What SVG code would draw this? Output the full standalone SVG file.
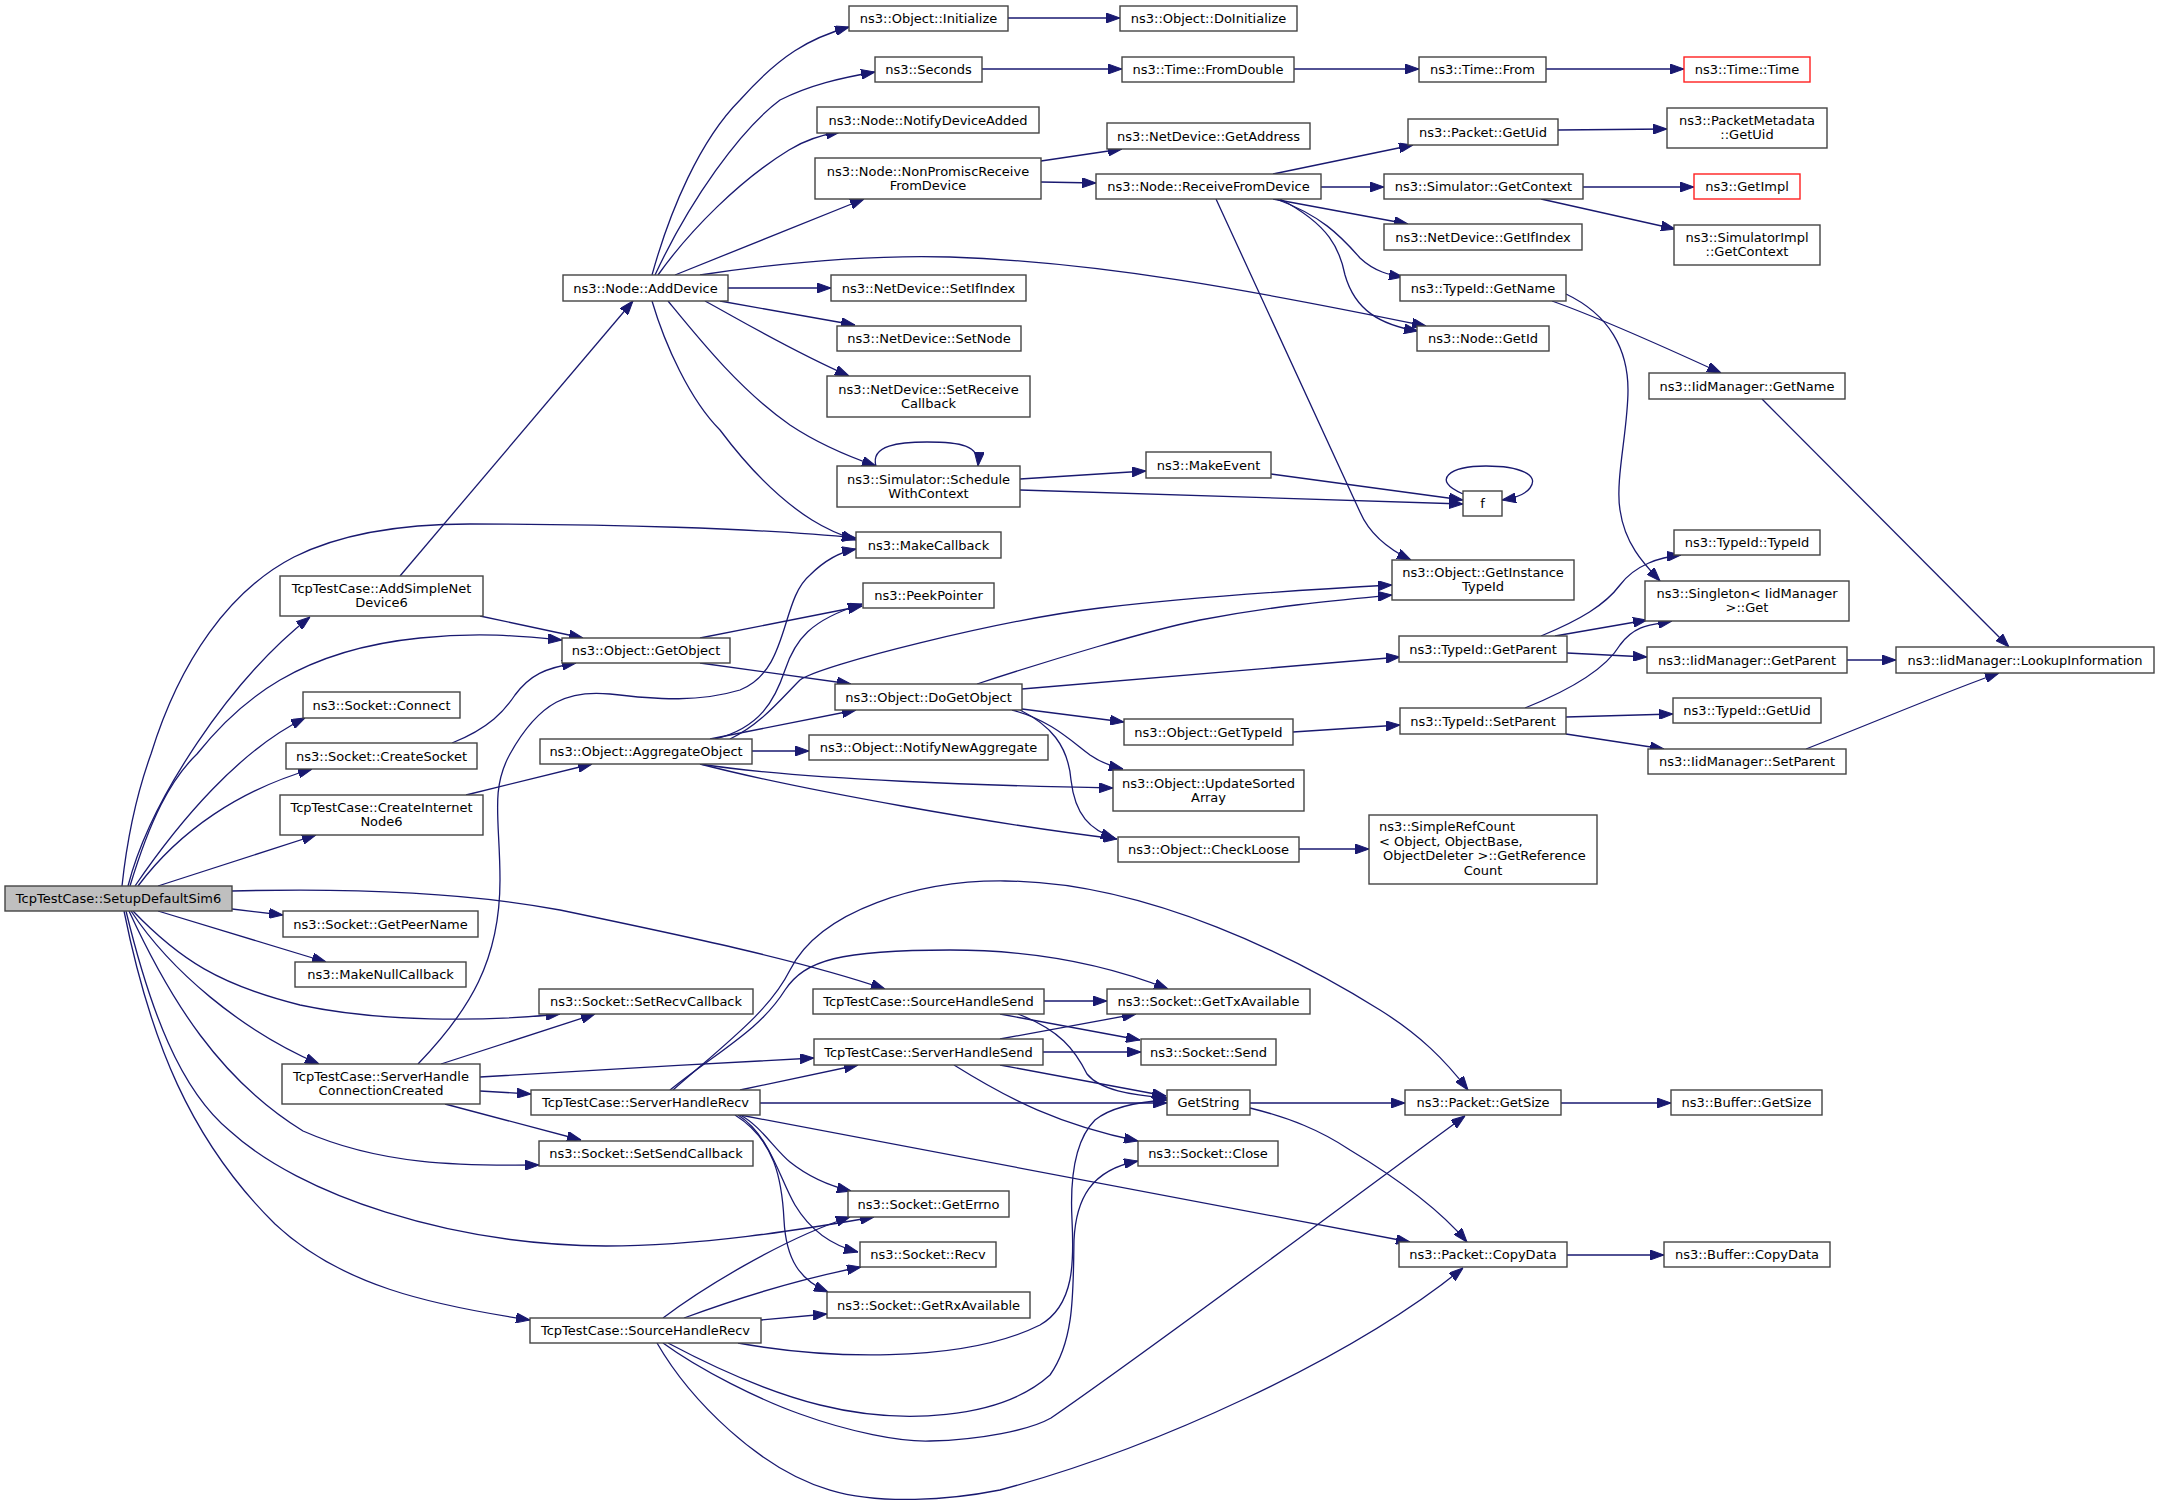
<svg xmlns="http://www.w3.org/2000/svg" width="2159" height="1506" viewBox="0 0 2159 1506">
<defs>
<style>
.n rect{fill:#fff;stroke:#444;stroke-width:1.4}
.root rect{fill:#bfbfbf;stroke:#444}
.red rect{stroke:#ff2020}
text{font-family:"DejaVu Sans","Liberation Sans",sans-serif;font-size:13px;text-anchor:middle;fill:#000}
text.l{text-anchor:start}
#edges path{fill:none;stroke:#191970;stroke-width:1.3;marker-end:url(#a)}
</style>
<marker id="a" viewBox="0 0 14 10" markerUnits="userSpaceOnUse" markerWidth="14" markerHeight="10" refX="14" refY="5" orient="auto"><path d="M0,0L14,5L0,10z" fill="#191970" stroke="#191970"/></marker>
</defs>
<rect width="2159" height="1506" fill="#fff"/>
<g id="edges">
<path d="M122,886 C128,830 138,790 151,754 C180,660 230,590 294,557 C340,534 400,524 470,524 C600,524 760,528 856,538"/>
<path d="M128,886 C150,800 230,680 310,617"/>
<path d="M130,886 C150,820 170,780 197,754 C240,700 300,650 420,638 C480,632 520,636 562,640"/>
<path d="M135,886 C180,820 240,750 305,718"/>
<path d="M138,886 C180,830 240,790 312,769"/>
<path d="M158,886 L316,835"/>
<path d="M232,891 C350,888 470,893 560,910 C680,935 800,960 885,989"/>
<path d="M232,909 L283,915"/>
<path d="M158,911 L326,962"/>
<path d="M133,911 C180,960 220,985 300,1005 C380,1022 480,1022 560,1014"/>
<path d="M131,911 C170,970 240,1030 319,1064"/>
<path d="M129,911 C170,1000 220,1080 303,1131 C380,1165 460,1166 539,1165"/>
<path d="M126,911 C150,1010 180,1090 230,1131 C300,1195 450,1245 606,1246 C700,1246 800,1230 874,1217"/>
<path d="M124,911 C150,1040 190,1140 275,1224 C340,1285 430,1305 530,1320"/>
<path d="M400,576 L633,301"/>
<path d="M480,616 L583,638"/>
<path d="M452,743 C490,728 505,710 515,695 C530,675 545,668 576,663"/>
<path d="M466,795 L592,764"/>
<path d="M418,1064 C470,1010 500,960 500,880 C500,820 490,790 510,754 C540,700 570,690 610,694 C660,700 700,702 740,690 C790,670 780,600 810,575 C825,560 840,552 856,549"/>
<path d="M441,1064 L595,1014"/>
<path d="M480,1077 C600,1070 700,1064 814,1058"/>
<path d="M480,1091 L531,1094"/>
<path d="M445,1104 L581,1140"/>
<path d="M740,1090 L858,1065"/>
<path d="M760,1103 L1167,1103"/>
<path d="M670,1090 C720,1050 760,1030 785,990 C805,960 840,950 950,950 C1050,950 1120,970 1168,989"/>
<path d="M673,1090 C730,1040 770,1010 790,970 C820,910 920,880 1005,881 C1150,882 1300,960 1380,1010 C1420,1035 1445,1060 1468,1090"/>
<path d="M740,1115 C760,1125 775,1150 790,1162 C810,1178 830,1186 851,1191"/>
<path d="M738,1115 C770,1135 780,1180 795,1205 C810,1230 830,1245 858,1252"/>
<path d="M735,1115 C775,1140 782,1180 784,1220 C786,1260 800,1280 828,1292"/>
<path d="M740,1115 L1410,1242"/>
<path d="M1000,1039 L1136,1014"/>
<path d="M1043,1052 L1141,1052"/>
<path d="M1000,1065 L1166,1096"/>
<path d="M954,1065 C1010,1100 1060,1125 1138,1141"/>
<path d="M1044,1001 L1107,1001"/>
<path d="M1000,1014 L1140,1040"/>
<path d="M1018,1014 C1060,1030 1075,1050 1087,1074 C1100,1090 1130,1095 1167,1098"/>
<path d="M663,1318 C700,1290 780,1240 850,1217"/>
<path d="M684,1318 C760,1290 820,1275 861,1267"/>
<path d="M761,1320 L827,1314"/>
<path d="M738,1343 C820,1358 960,1365 1040,1325 C1075,1305 1074,1260 1072,1220 C1070,1180 1075,1140 1095,1120 C1110,1108 1135,1102 1167,1100"/>
<path d="M668,1343 C700,1360 760,1390 820,1405 C900,1425 1000,1420 1050,1375 C1075,1340 1073,1290 1074,1240 C1076,1200 1090,1170 1138,1161"/>
<path d="M663,1343 C700,1370 760,1400 800,1414 C850,1432 900,1442 930,1441 C980,1440 1030,1430 1051,1418 C1150,1350 1350,1200 1465,1116"/>
<path d="M657,1343 C690,1400 760,1470 830,1490 C880,1505 950,1500 1000,1490 C1150,1450 1350,1360 1463,1268"/>
<path d="M1250,1103 L1405,1103"/>
<path d="M1250,1108 C1290,1118 1320,1130 1350,1150 C1400,1180 1440,1210 1467,1242"/>
<path d="M1561,1103 L1671,1103"/>
<path d="M1567,1255 L1664,1255"/>
<path d="M700,638 L862,606"/>
<path d="M700,663 L851,684"/>
<path d="M715,739 C760,728 775,700 785,670 C795,640 810,620 862,604"/>
<path d="M730,739 C760,725 780,700 800,680 C820,665 1000,620 1100,608 C1200,596 1300,590 1392,585"/>
<path d="M710,739 L856,710"/>
<path d="M752,751 L809,751"/>
<path d="M700,764 C800,780 1000,786 1113,788"/>
<path d="M700,764 C800,790 1000,825 1117,839"/>
<path d="M977,684 C1050,660 1150,630 1200,620 C1280,605 1340,600 1392,595"/>
<path d="M1022,689 L1400,657"/>
<path d="M1022,709 L1124,722"/>
<path d="M1012,710 C1050,720 1070,740 1090,755 C1100,762 1110,766 1123,769"/>
<path d="M1020,710 C1050,725 1068,745 1071,780 C1075,815 1090,830 1115,838"/>
<path d="M1293,732 L1400,725"/>
<path d="M1541,636 C1580,620 1605,605 1620,585 C1635,565 1660,557 1681,555"/>
<path d="M1555,636 L1647,620"/>
<path d="M1567,653 L1647,657"/>
<path d="M1525,708 C1570,690 1605,670 1620,645 C1635,625 1650,625 1672,621"/>
<path d="M1566,717 L1673,714"/>
<path d="M1566,734 L1664,749"/>
<path d="M1847,660 L1896,660"/>
<path d="M1806,749 C1880,720 1950,690 1999,673"/>
<path d="M1762,399 L2009,647"/>
<path d="M1552,301 C1600,318 1660,345 1721,373"/>
<path d="M1566,294 C1610,315 1628,350 1628,390 C1628,430 1615,480 1620,510 C1625,545 1645,565 1660,581"/>
<path d="M1273,174 L1413,145"/>
<path d="M1321,187 L1384,187"/>
<path d="M1273,199 L1408,224"/>
<path d="M1276,199 C1320,215 1340,235 1360,258 C1375,272 1390,275 1403,277"/>
<path d="M1280,199 C1330,225 1340,250 1345,275 C1355,310 1380,325 1418,331"/>
<path d="M1216,199 L1360,512 C1370,535 1390,550 1411,560"/>
<path d="M1041,161 L1122,149"/>
<path d="M1041,182 L1096,183"/>
<path d="M1008,18 L1120,18"/>
<path d="M982,69 L1122,69"/>
<path d="M1294,69 L1419,69"/>
<path d="M1546,69 L1684,69"/>
<path d="M1558,130 L1667,129"/>
<path d="M1583,187 L1694,187"/>
<path d="M1541,199 L1675,229"/>
<path d="M652,275 C670,210 700,140 740,100 C780,55 810,38 849,27"/>
<path d="M655,275 C690,200 740,130 780,100 C810,85 840,78 875,72"/>
<path d="M658,275 C690,230 740,180 789,150 C805,140 820,135 840,132"/>
<path d="M675,275 L864,199"/>
<path d="M700,275 C800,260 880,255 950,257 C1100,262 1250,290 1426,326"/>
<path d="M728,288 L831,288"/>
<path d="M720,301 L855,325"/>
<path d="M705,301 C740,320 790,350 849,376"/>
<path d="M668,301 C700,340 740,390 790,425 C820,445 850,457 876,466"/>
<path d="M652,301 C665,345 690,400 720,430 C750,470 780,500 812,520 C828,530 840,535 856,540"/>
<path d="M876,466 C870,445 900,442 927,442 C960,442 980,445 978,466"/>
<path d="M1020,479 L1146,471"/>
<path d="M1020,490 C1200,495 1350,500 1463,504"/>
<path d="M1271,474 L1463,500"/>
<path d="M1463,494 C1430,480 1450,466 1486,466 C1520,466 1540,475 1530,488 C1525,495 1515,498 1502,500"/>
<path d="M1299,849 L1369,849"/>
</g>
<g id="n0" class="n root"><rect x="5" y="886" width="227" height="25"/><text x="118.5" y="903">TcpTestCase::SetupDefaultSim6</text></g>
<g id="n1" class="n"><rect x="280" y="576" width="203" height="40"/><text x="381.5" y="593">TcpTestCase::AddSimpleNet</text><text x="381.5" y="607">Device6</text></g>
<g id="n2" class="n"><rect x="563" y="275" width="165" height="26"/><text x="645.5" y="292.5">ns3::Node::AddDevice</text></g>
<g id="n3" class="n"><rect x="849" y="6" width="159" height="25"/><text x="928.5" y="23">ns3::Object::Initialize</text></g>
<g id="n4" class="n"><rect x="1120" y="6" width="177" height="25"/><text x="1208.5" y="23">ns3::Object::DoInitialize</text></g>
<g id="n5" class="n"><rect x="875" y="57" width="107" height="25"/><text x="928.5" y="74">ns3::Seconds</text></g>
<g id="n6" class="n"><rect x="1122" y="57" width="172" height="25"/><text x="1208" y="74">ns3::Time::FromDouble</text></g>
<g id="n7" class="n"><rect x="1419" y="57" width="127" height="25"/><text x="1482.5" y="74">ns3::Time::From</text></g>
<g id="n8" class="n red"><rect x="1684" y="57" width="126" height="25"/><text x="1747" y="74">ns3::Time::Time</text></g>
<g id="n9" class="n"><rect x="817" y="107" width="222" height="26"/><text x="928" y="124.5">ns3::Node::NotifyDeviceAdded</text></g>
<g id="n10" class="n"><rect x="815" y="158" width="226" height="41"/><text x="928" y="175.5">ns3::Node::NonPromiscReceive</text><text x="928" y="189.5">FromDevice</text></g>
<g id="n11" class="n"><rect x="1107" y="123" width="203" height="26"/><text x="1208.5" y="140.5">ns3::NetDevice::GetAddress</text></g>
<g id="n12" class="n"><rect x="1096" y="174" width="225" height="25"/><text x="1208.5" y="191">ns3::Node::ReceiveFromDevice</text></g>
<g id="n13" class="n"><rect x="1408" y="119" width="150" height="26"/><text x="1483" y="136.5">ns3::Packet::GetUid</text></g>
<g id="n14" class="n"><rect x="1667" y="108" width="160" height="40"/><text x="1747" y="125">ns3::PacketMetadata</text><text x="1747" y="139">::GetUid</text></g>
<g id="n15" class="n"><rect x="1384" y="174" width="199" height="25"/><text x="1483.5" y="191">ns3::Simulator::GetContext</text></g>
<g id="n16" class="n red"><rect x="1694" y="174" width="106" height="25"/><text x="1747" y="191">ns3::GetImpl</text></g>
<g id="n17" class="n"><rect x="1674" y="225" width="146" height="40"/><text x="1747" y="242">ns3::SimulatorImpl</text><text x="1747" y="256">::GetContext</text></g>
<g id="n18" class="n"><rect x="1384" y="224" width="198" height="26"/><text x="1483" y="241.5">ns3::NetDevice::GetIfIndex</text></g>
<g id="n19" class="n"><rect x="1400" y="275" width="166" height="26"/><text x="1483" y="292.5">ns3::TypeId::GetName</text></g>
<g id="n20" class="n"><rect x="1417" y="326" width="132" height="25"/><text x="1483" y="343">ns3::Node::GetId</text></g>
<g id="n21" class="n"><rect x="1649" y="373" width="196" height="26"/><text x="1747" y="390.5">ns3::IidManager::GetName</text></g>
<g id="n22" class="n"><rect x="831" y="275" width="195" height="26"/><text x="928.5" y="292.5">ns3::NetDevice::SetIfIndex</text></g>
<g id="n23" class="n"><rect x="837" y="326" width="184" height="25"/><text x="929" y="343">ns3::NetDevice::SetNode</text></g>
<g id="n24" class="n"><rect x="827" y="376" width="203" height="41"/><text x="928.5" y="393.5">ns3::NetDevice::SetReceive</text><text x="928.5" y="407.5">Callback</text></g>
<g id="n25" class="n"><rect x="837" y="466" width="183" height="41"/><text x="928.5" y="483.5">ns3::Simulator::Schedule</text><text x="928.5" y="497.5">WithContext</text></g>
<g id="n26" class="n"><rect x="1146" y="452" width="125" height="26"/><text x="1208.5" y="469.5">ns3::MakeEvent</text></g>
<g id="n27" class="n"><rect x="1463" y="491" width="39" height="25"/><text x="1482.5" y="508">f</text></g>
<g id="n28" class="n"><rect x="856" y="532" width="145" height="26"/><text x="928.5" y="549.5">ns3::MakeCallback</text></g>
<g id="n29" class="n"><rect x="863" y="583" width="131" height="25"/><text x="928.5" y="600">ns3::PeekPointer</text></g>
<g id="n30" class="n"><rect x="562" y="638" width="168" height="25"/><text x="646" y="655">ns3::Object::GetObject</text></g>
<g id="n31" class="n"><rect x="835" y="684" width="187" height="26"/><text x="928.5" y="701.5">ns3::Object::DoGetObject</text></g>
<g id="n32" class="n"><rect x="1392" y="560" width="182" height="40"/><text x="1483" y="577">ns3::Object::GetInstance</text><text x="1483" y="591">TypeId</text></g>
<g id="n33" class="n"><rect x="1674" y="530" width="146" height="25"/><text x="1747" y="547">ns3::TypeId::TypeId</text></g>
<g id="n34" class="n"><rect x="1645" y="581" width="204" height="40"/><text x="1747" y="598">ns3::Singleton&lt; IidManager</text><text x="1747" y="612">&gt;::Get</text></g>
<g id="n35" class="n"><rect x="1399" y="636" width="168" height="26"/><text x="1483" y="653.5">ns3::TypeId::GetParent</text></g>
<g id="n36" class="n"><rect x="1647" y="647" width="200" height="26"/><text x="1747" y="664.5">ns3::IidManager::GetParent</text></g>
<g id="n37" class="n"><rect x="1896" y="647" width="258" height="26"/><text x="2025" y="664.5">ns3::IidManager::LookupInformation</text></g>
<g id="n38" class="n"><rect x="1124" y="719" width="169" height="26"/><text x="1208.5" y="736.5">ns3::Object::GetTypeId</text></g>
<g id="n39" class="n"><rect x="1400" y="708" width="166" height="26"/><text x="1483" y="725.5">ns3::TypeId::SetParent</text></g>
<g id="n40" class="n"><rect x="1673" y="698" width="148" height="25"/><text x="1747" y="715">ns3::TypeId::GetUid</text></g>
<g id="n41" class="n"><rect x="1648" y="749" width="198" height="25"/><text x="1747" y="766">ns3::IidManager::SetParent</text></g>
<g id="n42" class="n"><rect x="303" y="692" width="157" height="26"/><text x="381.5" y="709.5">ns3::Socket::Connect</text></g>
<g id="n43" class="n"><rect x="286" y="743" width="191" height="26"/><text x="381.5" y="760.5">ns3::Socket::CreateSocket</text></g>
<g id="n44" class="n"><rect x="540" y="739" width="212" height="25"/><text x="646" y="756">ns3::Object::AggregateObject</text></g>
<g id="n45" class="n"><rect x="809" y="735" width="239" height="25"/><text x="928.5" y="752">ns3::Object::NotifyNewAggregate</text></g>
<g id="n46" class="n"><rect x="280" y="795" width="203" height="40"/><text x="381.5" y="812">TcpTestCase::CreateInternet</text><text x="381.5" y="826">Node6</text></g>
<g id="n47" class="n"><rect x="1113" y="770" width="191" height="41"/><text x="1208.5" y="787.5">ns3::Object::UpdateSorted</text><text x="1208.5" y="801.5">Array</text></g>
<g id="n48" class="n"><rect x="1118" y="837" width="181" height="25"/><text x="1208.5" y="854">ns3::Object::CheckLoose</text></g>
<g id="n49" class="n"><rect x="1369" y="815" width="228" height="69"/><text class="l" x="1379" y="831">ns3::SimpleRefCount</text><text class="l" x="1379" y="845.5">&lt; Object, ObjectBase,</text><text class="l" x="1383" y="860">ObjectDeleter &gt;::GetReference</text><text x="1483" y="874.5">Count</text></g>
<g id="n50" class="n"><rect x="283" y="911" width="195" height="26"/><text x="380.5" y="928.5">ns3::Socket::GetPeerName</text></g>
<g id="n51" class="n"><rect x="295" y="962" width="171" height="25"/><text x="380.5" y="979">ns3::MakeNullCallback</text></g>
<g id="n52" class="n"><rect x="539" y="989" width="214" height="25"/><text x="646" y="1006">ns3::Socket::SetRecvCallback</text></g>
<g id="n53" class="n"><rect x="813" y="989" width="231" height="25"/><text x="928.5" y="1006">TcpTestCase::SourceHandleSend</text></g>
<g id="n54" class="n"><rect x="1107" y="989" width="203" height="25"/><text x="1208.5" y="1006">ns3::Socket::GetTxAvailable</text></g>
<g id="n55" class="n"><rect x="814" y="1039" width="229" height="26"/><text x="928.5" y="1056.5">TcpTestCase::ServerHandleSend</text></g>
<g id="n56" class="n"><rect x="1141" y="1039" width="135" height="26"/><text x="1208.5" y="1056.5">ns3::Socket::Send</text></g>
<g id="n57" class="n"><rect x="282" y="1064" width="198" height="40"/><text x="381" y="1081">TcpTestCase::ServerHandle</text><text x="381" y="1095">ConnectionCreated</text></g>
<g id="n58" class="n"><rect x="531" y="1090" width="229" height="25"/><text x="645.5" y="1107">TcpTestCase::ServerHandleRecv</text></g>
<g id="n59" class="n"><rect x="1167" y="1090" width="83" height="25"/><text x="1208.5" y="1107">GetString</text></g>
<g id="n60" class="n"><rect x="1405" y="1090" width="156" height="25"/><text x="1483" y="1107">ns3::Packet::GetSize</text></g>
<g id="n61" class="n"><rect x="1671" y="1090" width="151" height="25"/><text x="1746.5" y="1107">ns3::Buffer::GetSize</text></g>
<g id="n62" class="n"><rect x="539" y="1141" width="214" height="25"/><text x="646" y="1158">ns3::Socket::SetSendCallback</text></g>
<g id="n63" class="n"><rect x="1138" y="1141" width="140" height="25"/><text x="1208" y="1158">ns3::Socket::Close</text></g>
<g id="n64" class="n"><rect x="848" y="1191" width="161" height="26"/><text x="928.5" y="1208.5">ns3::Socket::GetErrno</text></g>
<g id="n65" class="n"><rect x="860" y="1242" width="136" height="25"/><text x="928" y="1259">ns3::Socket::Recv</text></g>
<g id="n66" class="n"><rect x="827" y="1292" width="203" height="26"/><text x="928.5" y="1309.5">ns3::Socket::GetRxAvailable</text></g>
<g id="n67" class="n"><rect x="1399" y="1242" width="168" height="25"/><text x="1483" y="1259">ns3::Packet::CopyData</text></g>
<g id="n68" class="n"><rect x="1664" y="1242" width="166" height="25"/><text x="1747" y="1259">ns3::Buffer::CopyData</text></g>
<g id="n69" class="n"><rect x="530" y="1318" width="231" height="25"/><text x="645.5" y="1335">TcpTestCase::SourceHandleRecv</text></g>
</svg>
